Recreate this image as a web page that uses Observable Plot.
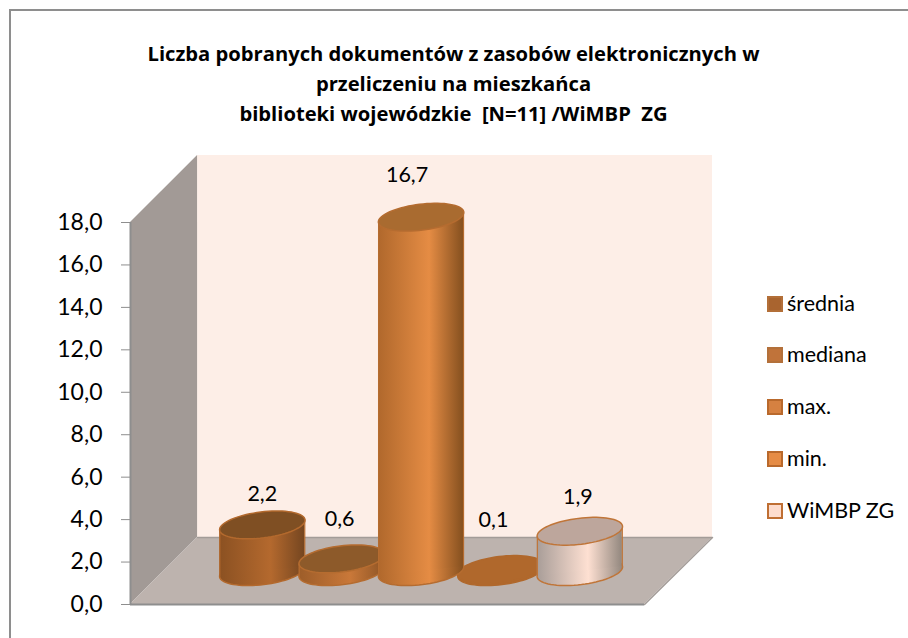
<!DOCTYPE html>
<html lang="pl">
<head>
<meta charset="utf-8">
<script src="https://cdn.jsdelivr.net/npm/d3@7"></script>
<script src="https://cdn.jsdelivr.net/npm/@observablehq/plot@0.6"></script>
<style>
  html, body { margin: 0; padding: 0; background: #fff; }
  #page { position: relative; width: 908px; height: 638px; overflow: hidden; font-family: Lato, sans-serif; color: #000; }
  #frame { position: absolute; left: 9px; top: 9px; right: -4px; bottom: -4px; border: 2px solid #8e8e8e; }
  #title { position: absolute; left: 0; top: 38px; width: 907px; text-align: center; font-family: "Open Sans", sans-serif; font-weight: 700; font-size: 20.2px; line-height: 30px; }
  #legend { position: absolute; left: 767px; top: 0; }
  .item { position: absolute; left: 0; height: 0; white-space: nowrap; font-size: 21.5px; }
  .item i { position: absolute; left: 0; top: -8px; width: 12px; height: 12px; border: 2px solid; box-sizing: content-box; }
  .item span { position: absolute; left: 20px; top: -15px; line-height: 28px; }
  svg { position: absolute; left: 0; top: 0; }
</style>
</head>
<body>
<div id="page">
  <div id="frame"></div>
  <div id="chart"></div>
  <div id="title">Liczba pobranych dokumentów z zasobów elektronicznych w<br>przeliczeniu na mieszkańca<br>biblioteki wojewódzkie&nbsp; [N=11] /WiMBP&nbsp; ZG</div>
  <div id="legend"></div>
</div>
<script>
// Data
const categories = ["średnia", "mediana", "max.", "min.", "WiMBP ZG"];
const values = [2.2, 0.6, 16.7, 0.1, 1.9];
const yTicks = [0, 2, 4, 6, 8, 10, 12, 14, 16, 18];

// Styles per series
const bodyLeft  = ["#8b5122", "#9d5d29", "#b0682c", "#b0682c", "#a89d98"];
const bodyMid   = ["#b4692e", "#c97839", "#e58c44", "#b0682c", "#fee0d2"];
const bodyRight = ["#754620", "#8e5525", "#85501f", "#b0682c", "#93887f"];
const topFill   = ["#7f4f23", "#8d5a2a", "#a96b30", "#b0682c", "#bda69c"];
const edge      = ["#b3692d", "#b56c30", "#b56c30", "#b0682c", "#c07538"];
const swatchFill = ["#a9642f", "#c0733a", "#d68141", "#e68c45", "#fddccd"];
const swatchEdge = ["#b36f38", "#b3703a", "#b9692c", "#b9692c", "#bf6f33"];

// Label placement relative to the cylinder top, and draw order (front-most last)
const labelDx = [0, -2, -14, -7, -2];
const labelDy = [-31, -40, -42, -49, -34];
const drawOrder = [0, 1, 3, 4, 2];

// 3D frame in chart units
const xLeft = -1.16, xDepth = 0.845, xFront = 5.315, xBack = 6.171;
const yDepth = 3.16, yTop = 18;
const base = 1.55, halfWidth = 0.535, tilt = 0.24;

const fmt = d => d.toFixed(1).replace(".", ",");

// Tilted ellipse used as a dot symbol
const ellipse = {
  draw(ctx) {
    const a = 43, b = 13, th = -7 * Math.PI / 180;
    for (let i = 0; i < 72; i++) {
      const t = i / 72 * 2 * Math.PI;
      const ex = a * Math.cos(t), ey = b * Math.sin(t);
      const px = ex * Math.cos(th) - ey * Math.sin(th);
      const py = ex * Math.sin(th) + ey * Math.cos(th);
      i ? ctx.lineTo(px, py) : ctx.moveTo(px, py);
    }
    ctx.closePath();
  }
};

const defs = () => {
  const s = d3.create("svg:defs");
  categories.forEach((_, i) => {
    const g = s.append("linearGradient").attr("id", "body" + i);
    [[0, bodyLeft[i]], [0.6, bodyMid[i]], [1, bodyRight[i]]].forEach(([o, c]) =>
      g.append("stop").attr("offset", o).attr("stop-color", c));
  });
  return s.node();
};

const cylinder = i => {
  const c = i + 0.5, v = values[i];
  const side = [
    {x: c - halfWidth, y1: base - tilt, y2: base + v - tilt},
    {x: c + halfWidth, y1: base + tilt, y2: base + v + tilt}
  ];
  return [
    Plot.dot([{x: c, y: base}], {x: "x", y: "y", symbol: ellipse, fill: `url(#body${i})`, stroke: edge[i], strokeWidth: 1.5}),
    Plot.areaY(side, {x: "x", y1: "y1", y2: "y2", fill: `url(#body${i})`}),
    Plot.ruleX(side, {x: "x", y1: "y1", y2: "y2", stroke: edge[i], strokeWidth: 1.2}),
    Plot.dot([{x: c, y: base + v}], {x: "x", y: "y", symbol: ellipse, fill: topFill[i], stroke: edge[i], strokeWidth: 1.5}),
    Plot.text([{x: c, y: base + v, t: fmt(v)}], {x: "x", y: "y", text: "t", dx: labelDx[i], dy: labelDy[i], fontSize: 21.5, fill: "#000"})
  ];
};

const plot = Plot.plot({
  width: 908, height: 638,
  marginLeft: 130, marginRight: 196, marginTop: 222, marginBottom: 34,
  style: {fontFamily: "Lato, sans-serif", fontSize: "23px", background: "transparent", overflow: "visible"},
  x: {type: "linear", domain: [xLeft, xBack], axis: null},
  y: {type: "linear", domain: [0, yTop], label: null},
  marks: [
    defs,
    // back wall
    Plot.areaY([{x: xLeft + xDepth, a: yDepth, b: yTop + yDepth}, {x: xBack, a: yDepth, b: yTop + yDepth}], {x: "x", y1: "a", y2: "b", fill: "#fdeee7"}),
    // left wall
    Plot.areaY([{x: xLeft, a: 0, b: yTop}, {x: xLeft + xDepth, a: yDepth, b: yTop + yDepth}], {x: "x", y1: "a", y2: "b", fill: "#a29a96"}),
    // floor
    Plot.areaX([{y: 0, a: xLeft, b: xFront}, {y: yDepth, a: xLeft + xDepth, b: xBack}], {y: "y", x1: "a", x2: "b", fill: "#bdb3ae"}),
    Plot.line([{x: xLeft + xDepth, y: yDepth}, {x: xBack, y: yDepth}, {x: xFront, y: 0}], {x: "x", y: "y", stroke: "#a39c98", strokeWidth: 1.5}),
    Plot.ruleY([0], {x1: xLeft, x2: xFront, stroke: "#8e8e8e", strokeWidth: 2}),
    Plot.ruleX([xLeft], {y1: 0, y2: yTop, stroke: "#8e8e8e", strokeWidth: 2}),
    Plot.axisY({ticks: yTicks, tickFormat: fmt, tickSize: 9, tickPadding: 19, stroke: "#8e8e8e", fill: "#000", label: null, anchor: "left", marginLeft: 130}),
    ...drawOrder.flatMap(cylinder)
  ]
});
document.getElementById("chart").append(plot);

// Legend
const legendY = [304, 355, 407, 459, 511];
const legend = d3.select("#legend");
categories.forEach((name, i) => {
  const it = legend.append("div").attr("class", "item").style("top", legendY[i] + "px");
  it.append("i").style("background", swatchFill[i]).style("border-color", swatchEdge[i]);
  it.append("span").text(name);
});
</script>
</body>
</html>
